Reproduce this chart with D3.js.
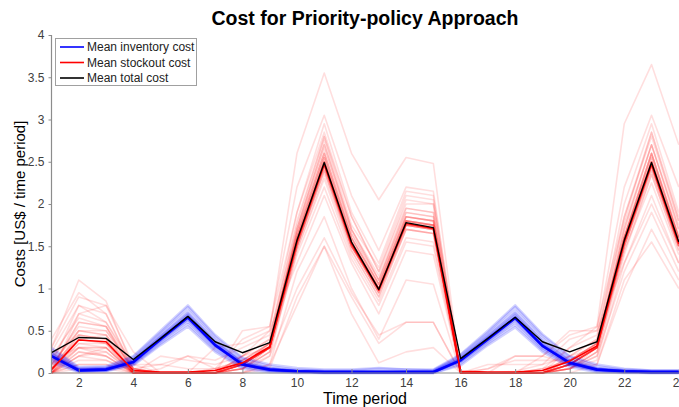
<!DOCTYPE html>
<html>
<head>
<meta charset="utf-8">
<script src="https://cdn.jsdelivr.net/npm/d3@7"></script>
<style>
  html, body { margin: 0; padding: 0; background: #fff; }
  svg { display: block; }
  text { font-family: Arial, "Liberation Sans", Helvetica, sans-serif; }
</style>
</head>
<body>
<svg id="chart" width="679" height="407"></svg>
<script>
// Time periods 1..24
const periods = d3.range(1, 25);
const xTicks = [2, 4, 6, 8, 10, 12, 14, 16, 18, 20, 22, 24];
const yTicks = [0, 0.5, 1, 1.5, 2, 2.5, 3, 3.5, 4];

// Mean cost per period (US$ / time period)
const meanInventory = [0.20,0.03,0.04,0.13,0.40,0.66,0.33,0.10,0.04,0.02,0.01,0.01,0.01,0.01,0.01,0.15,0.40,0.65,0.32,0.12,0.04,0.02,0.01,0.01];
const meanStockout  = [0.04,0.39,0.37,0.03,0.01,0.01,0.03,0.12,0.31,1.55,2.47,1.53,0.98,1.77,1.71,0.02,0.01,0.01,0.03,0.14,0.32,1.55,2.47,1.53];
const meanTotal     = [0.24,0.42,0.41,0.16,0.41,0.67,0.37,0.24,0.36,1.57,2.49,1.55,0.99,1.78,1.72,0.17,0.41,0.66,0.37,0.25,0.37,1.57,2.49,1.55];

// Individual replications: stockout cost
const stockoutRuns = [
  [0.30,1.10,0.85,0.05, 0,0,0,0.20,0.50, 2.60,3.55,2.60,2.05,2.55,2.48, 0,0,0,0,0.30,0.55, 2.95,3.65,2.70],
  [0.10,0.80,0.70,0.02, 0,0,0.05,0.40,0.55, 2.20,3.05,2.10,1.45,2.20,2.15, 0,0,0.02,0.10,0.40,0.50, 2.20,3.05,2.20],
  [0.05,0.60,0.55,0, 0,0,0,0.20,0.40, 1.90,2.95,1.90,1.30,2.15,2.10, 0,0,0,0,0.20,0.40, 2.00,2.95,1.90],
  [0,0.50,0.45,0, 0,0,0,0.10,0.35, 1.80,2.80,1.85,1.20,2.05,2.00, 0,0,0,0,0.15,0.35, 1.85,2.85,1.85],
  [0.20,0.45,0.40,0.02, 0,0,0,0.10,0.30, 1.70,2.70,1.70,1.10,1.95,1.90, 0,0,0,0.05,0.15,0.30, 1.75,2.70,1.75],
  [0.40,0.95,0.70,0.05, 0,0,0,0.50,0.55, 1.90,2.85,1.85,1.20,2.00,2.00, 0,0,0.20,0.20,0.45,0.55, 1.85,2.80,1.80],
  [0,0.70,0.80,0.10, 0,0,0.30,0.35,0.50, 1.30,2.10,1.30,0.70,1.45,1.40, 0,0,0,0.20,0.50,0.50, 1.30,2.00,1.30],
  [0.05,0.35,0.30,0, 0,0,0,0.10,0.30, 1.55,2.50,1.55,1.00,1.80,1.75, 0,0,0,0,0.10,0.30, 1.55,2.50,1.55],
  [0,0.25,0.20,0, 0,0,0,0.05,0.25, 1.50,2.40,1.45,0.90,1.70,1.65, 0,0,0,0,0.05,0.25, 1.50,2.40,1.50],
  [0.10,0.55,0.50,0.05, 0,0,0.05,0.15,0.35, 1.65,2.65,1.65,1.10,1.90,1.85, 0,0,0,0.05,0.15,0.35, 1.65,2.60,1.65],
  [0,0.15,0.15,0, 0,0,0,0,0.20, 1.45,2.30,1.40,0.85,1.60,1.55, 0,0,0,0,0.05,0.20, 1.40,2.35,1.45],
  [0.05,0.40,0.45,0, 0,0,0,0.20,0.40, 1.60,2.55,1.60,1.05,1.85,1.80, 0,0,0,0,0.20,0.40, 1.60,2.55,1.60],
  [0,0.30,0.25,0, 0,0,0,0.10,0.30, 1.50,2.45,1.50,0.95,1.75,1.70, 0,0,0,0,0.10,0.30, 1.55,2.45,1.50],
  [0.15,0.70,0.60,0.05, 0.10,0.05,0.05,0.15,0.30, 1.70,2.75,1.70,1.15,1.95,1.90, 0,0,0,0,0.10,0.30, 1.70,2.70,1.70],
  [0,0.20,0.30,0, 0,0,0,0.05,0.25, 1.40,2.20,1.35,0.80,1.55,1.50, 0,0,0,0,0.05,0.25, 1.45,2.25,1.40],
  [0.05,0.45,0.40,0, 0,0,0,0.10,0.35, 1.60,2.60,1.60,1.05,1.85,1.80, 0,0,0,0,0.10,0.35, 1.60,2.60,1.60],
  [0,0.35,0.35,0, 0,0,0,0.10,0.30, 1.55,2.50,1.55,1.00,1.80,1.70, 0,0,0,0,0.10,0.30, 1.55,2.50,1.55],
  [0.10,0.50,0.45,0.05, 0,0,0,0.10,0.30, 1.50,2.45,1.50,0.95,1.75,1.70, 0,0,0,0,0.10,0.30, 1.50,2.45,1.50],
  [0,0.10,0.10,0, 0.20,0.15,0.10,0.20,0.30, 1.55,2.50,1.50,1.00,1.75,1.75, 0,0.10,0.10,0.10,0.20,0.30, 1.55,2.50,1.55],
  [0.30,0.90,0.80,0.25, 0,0,0,0.10,0.30, 1.60,2.55,1.55,1.00,1.80,1.75, 0,0,0,0,0.10,0.30, 1.60,2.55,1.60],
  [0,0.20,0.15,0.02, 0,0,0,0.05,0.30, 1.50,2.40,1.50,0.95,1.70,1.65, 0,0,0,0,0.05,0.30, 1.50,2.40,1.50],
  [0.05,0.60,0.55,0.02, 0,0,0,0.10,0.30, 1.65,2.60,1.65,1.05,1.85,1.80, 0,0,0,0,0.15,0.35, 1.60,2.60,1.60],
  [0,0.30,0.30,0, 0.05,0.20,0.05,0.10,0.30, 1.50,2.45,1.50,1.00,1.75,1.70, 0,0,0,0,0.10,0.30, 1.50,2.45,1.50],
  [0.10,0.40,0.35,0, 0,0,0,0.15,0.35, 1.60,2.50,1.55,1.00,1.80,1.75, 0,0.05,0.15,0.15,0.15,0.35, 1.60,2.50,1.55],
  [0,0.25,0.20,0, 0,0,0,0.05,0.30, 1.55,2.45,1.50,1.00,1.75,1.70, 0,0,0,0,0.10,0.30, 1.55,2.45,1.50],
  [0,0.45,0.40,0, 0,0,0,0.10,0.30, 1.60,2.55,1.60,1.00,1.80,1.75, 0,0,0,0,0.10,0.30, 1.60,2.50,1.60],
  [0.05,0.30,0.30,0, 0,0,0,0.10,0.30, 1.50,2.40,1.50,0.95,1.75,1.70, 0,0,0,0,0.10,0.30, 1.50,2.45,1.50],
  [0,0.40,0.35,0, 0,0,0,0.15,0.35, 1.65,2.60,1.60,1.05,1.85,1.80, 0,0,0,0,0.15,0.35, 1.60,2.60,1.60],
  [0.10,0.50,0.50,0.05, 0,0,0,0.10,0.30, 1.55,2.50,1.55,1.00,1.80,1.75, 0,0,0,0,0.10,0.30, 1.55,2.50,1.55],
  [0,0.20,0.25,0, 0,0,0,0.05,0.25, 1.45,2.35,1.45,0.90,1.70,1.65, 0,0,0,0,0.05,0.25, 1.45,2.35,1.45],
  [0.20,0.65,0.55,0.05, 0,0,0,0.10,0.30, 1.70,2.70,1.70,1.10,1.90,1.85, 0,0,0,0,0.10,0.30, 1.70,2.70,1.70],
  [0,0.10,0.10,0, 0,0,0,0,0.10, 1.20,1.85,1.00,0.40,1.10,1.05, 0,0,0,0,0,0.10, 1.10,1.55,1.00],
  [0,0,0,0, 0,0,0,0,0.05, 0.90,1.50,0.90,0.35,0.60,0.60, 0,0.05,0.20,0.20,0.10,0.10, 1.00,1.70,1.10],
  [0.15,0.30,0.20,0, 0,0,0,0.05,0.20, 1.00,1.60,0.95,0.45,0.60,0.60, 0,0,0,0,0.05,0.20, 1.20,1.90,1.20],
  [0,0.05,0.05,0, 0,0,0,0,0.10, 0.80,1.50,0.70,0.12,0.25,0.30, 0,0,0,0,0.05,0.15, 1.30,2.10,1.30],
  [0.25,0.80,0.60,0.10, 0.10,0.20,0.15,0.30,0.45, 1.75,2.80,1.75,1.25,2.10,2.05, 0,0,0,0.05,0.30,0.45, 1.80,2.85,1.80]
];

// Individual replications: inventory cost
const inventoryRuns = [
  [0.25,0.05,0.06,0.17,0.46,0.74,0.40,0.14,0.06,0.03,0.02,0.02,0.02,0.02,0.03,0.19,0.46,0.74,0.41,0.16,0.06,0.03,0.02,0.02],
  [0.15,0.02,0.03,0.10,0.35,0.58,0.27,0.07,0.02,0.01,0,0,0,0,0,0.11,0.35,0.57,0.27,0.09,0.02,0.01,0,0],
  [0.22,0.04,0.05,0.15,0.42,0.69,0.36,0.12,0.05,0.02,0.01,0.01,0.01,0.01,0.01,0.17,0.42,0.68,0.35,0.13,0.05,0.02,0.01,0.01],
  [0.18,0.03,0.04,0.12,0.38,0.63,0.31,0.09,0.03,0.01,0.01,0.01,0.01,0.01,0.01,0.14,0.38,0.62,0.30,0.10,0.03,0.01,0.01,0.01],
  [0.28,0.06,0.07,0.19,0.48,0.78,0.43,0.17,0.08,0.04,0.03,0.03,0.05,0.04,0.03,0.21,0.48,0.78,0.44,0.19,0.08,0.04,0.03,0.03],
  [0.12,0.01,0.02,0.09,0.33,0.55,0.25,0.05,0.01,0,0,0,0,0,0,0.09,0.33,0.54,0.25,0.07,0.01,0,0,0],
  [0.20,0.03,0.04,0.14,0.41,0.67,0.34,0.10,0.04,0.02,0.01,0.01,0.01,0.01,0.01,0.15,0.41,0.66,0.34,0.12,0.04,0.02,0.01,0.01],
  [0.24,0.04,0.05,0.16,0.44,0.71,0.38,0.13,0.05,0.03,0.02,0.02,0.02,0.02,0.02,0.18,0.44,0.71,0.38,0.15,0.05,0.03,0.02,0.02],
  [0.16,0.02,0.03,0.11,0.37,0.61,0.29,0.08,0.03,0.01,0.01,0.01,0.01,0.01,0.01,0.13,0.37,0.60,0.29,0.10,0.03,0.01,0.01,0.01],
  [0.21,0.03,0.05,0.13,0.40,0.65,0.33,0.11,0.04,0.02,0.01,0.01,0.01,0.01,0.01,0.15,0.40,0.65,0.32,0.11,0.04,0.02,0.01,0.01],
  [0.30,0.07,0.08,0.20,0.50,0.80,0.45,0.18,0.10,0.06,0.04,0.04,0.06,0.04,0.04,0.22,0.50,0.80,0.46,0.20,0.10,0.05,0.03,0.03],
  [0.19,0.03,0.03,0.12,0.39,0.64,0.32,0.10,0.03,0.02,0.01,0.01,0.01,0.01,0.01,0.14,0.39,0.64,0.33,0.11,0.04,0.02,0.01,0.01],
  [0.20,0.04,0.04,0.13,0.41,0.66,0.33,0.11,0.04,0.02,0.01,0.01,0.01,0.01,0.01,0.16,0.41,0.66,0.33,0.12,0.04,0.02,0.01,0.01],
  [0.23,0.04,0.05,0.15,0.43,0.70,0.36,0.12,0.05,0.02,0.02,0.02,0.02,0.02,0.02,0.17,0.43,0.70,0.37,0.14,0.05,0.02,0.02,0.02]
];

const legendItems = [
  { label: "Mean inventory cost", color: "#0000ff" },
  { label: "Mean stockout cost",  color: "#ff0000" },
  { label: "Mean total cost",     color: "#000000" }
];

const svg = d3.select("#chart");
const x = d3.scaleLinear().domain([1, 24]).range([51.5, 678.8]);
const y = d3.scaleLinear().domain([0, 4]).range([373, 35]);

const line = d3.line()
  .x((d, i) => x(periods[i]))
  .y(d => y(d));

// Replications
svg.append("g").selectAll("path")
  .data(stockoutRuns).join("path")
  .attr("d", line)
  .attr("fill", "none")
  .attr("stroke", "#ff0000")
  .attr("stroke-opacity", 0.13)
  .attr("stroke-width", 1.6)
  .attr("stroke-linejoin", "round");

svg.append("g").selectAll("path")
  .data(inventoryRuns).join("path")
  .attr("d", line)
  .attr("fill", "none")
  .attr("stroke", "#0000ff")
  .attr("stroke-opacity", 0.18)
  .attr("stroke-width", 2.5)
  .attr("stroke-linejoin", "round");

// Mean lines
[[meanInventory, "#0000ff", 2.6], [meanStockout, "#ff0000", 1.6], [meanTotal, "#000000", 1.4]]
  .forEach(([vals, col, w]) => {
    svg.append("path")
      .attr("d", line(vals))
      .attr("fill", "none")
      .attr("stroke", col)
      .attr("stroke-width", w)
      .attr("stroke-linejoin", "round");
  });

// Axes
const axisColor = "#8c8c8c";
const xAxis = svg.append("g")
  .attr("transform", `translate(0,${y(0)})`)
  .call(d3.axisBottom(x).tickValues(xTicks).tickSize(-4).tickPadding(5).tickFormat(d3.format("d")));
const yAxis = svg.append("g")
  .attr("transform", `translate(${x(1)},0)`)
  .call(d3.axisLeft(y).tickValues(yTicks).tickSize(3).tickPadding(4).tickFormat(d3.format("~g")));

[xAxis, yAxis].forEach(g => {
  g.select(".domain").attr("stroke", axisColor).attr("stroke-width", 1.2);
  g.selectAll(".tick line").attr("stroke", axisColor);
  g.selectAll(".tick text")
    .attr("fill", "#404040")
    .style("font-size", "12px")
    .style("font-family", "Arial, 'Liberation Sans', Helvetica, sans-serif");
});
xAxis.select(".domain").attr("d", `M${x(1)},0H${x(24)}`);
yAxis.select(".domain").attr("d", `M0,${y(0)}V${y(4)}`);

// Title and axis labels
svg.append("text")
  .attr("x", 365).attr("y", 25)
  .attr("text-anchor", "middle")
  .style("font-size", "19.5px").style("font-weight", "bold")
  .attr("fill", "#000")
  .text("Cost for Priority-policy Approach");

svg.append("text")
  .attr("x", 365).attr("y", 404)
  .attr("text-anchor", "middle")
  .style("font-size", "16px")
  .attr("fill", "#000")
  .text("Time period");

svg.append("text")
  .attr("transform", `translate(25,${(y(0) + y(4)) / 2}) rotate(-90)`)
  .attr("text-anchor", "middle")
  .style("font-size", "15px")
  .attr("fill", "#000")
  .text("Costs [US$ / time period]");

// Legend
const lg = svg.append("g");
lg.append("rect")
  .attr("x", 55.5).attr("y", 38.5)
  .attr("width", 141).attr("height", 47)
  .attr("fill", "#fff")
  .attr("stroke", "#a0a0a0");
const rows = lg.selectAll("g.item").data(legendItems).join("g")
  .attr("class", "item")
  .attr("transform", (d, i) => `translate(0,${47 + i * 15.5})`);
rows.append("line")
  .attr("x1", 60).attr("x2", 84)
  .attr("stroke", d => d.color)
  .attr("stroke-width", 1.6);
rows.append("text")
  .attr("x", 87).attr("y", 4)
  .style("font-size", "12px")
  .attr("fill", "#222")
  .text(d => d.label);
</script>
</body>
</html>
